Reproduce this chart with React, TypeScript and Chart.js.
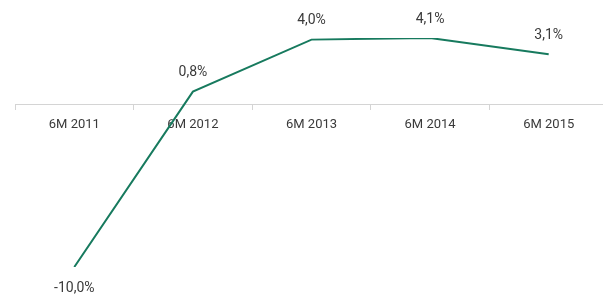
import React, { useEffect, useRef } from "react";
import { Chart, registerables } from "chart.js";

Chart.register(...registerables);

const categories = ["6M 2011", "6M 2012", "6M 2013", "6M 2014", "6M 2015"];
const values = [-10.0, 0.8, 4.0, 4.1, 3.1];
const valueLabels = ["-10,0%", "0,8%", "4,0%", "4,1%", "3,1%"];

const FONT = "Roboto, 'Open Sans', sans-serif";
const TEXT = "#3a3a3a";
const LINE = "#177a5e";

const labelPlugin = {
  id: "valueLabels",
  afterDatasetsDraw(chart: any) {
    const ctx = chart.ctx;
    const meta = chart.getDatasetMeta(0);
    ctx.save();
    ctx.font = `14px ${FONT}`;
    ctx.fillStyle = TEXT;
    ctx.textAlign = "center";
    ctx.textBaseline = "middle";
    meta.data.forEach((pt: any, i: number) => {
      const v = values[i];
      const y = v < 0 ? pt.y + 21 : pt.y - 19;
      ctx.fillText(valueLabels[i], pt.x, y);
    });
    ctx.restore();
  },
};

export default function App() {
  const ref = useRef<HTMLCanvasElement | null>(null);
  useEffect(() => {
    if (!ref.current) return;
    const chart = new Chart(ref.current, {
      type: "line",
      data: {
        labels: categories,
        datasets: [
          {
            data: values,
            borderColor: LINE,
            borderWidth: 2,
            pointRadius: 0,
            tension: 0,
            fill: false,
          },
        ],
      },
      options: {
        animation: false,
        responsive: false,
        maintainAspectRatio: false,
        layout: { padding: { left: 15, right: 2, top: 38, bottom: 28 } },
        plugins: { legend: { display: false }, tooltip: { enabled: false } },
        scales: {
          x: {
            type: "category",
            position: { y: 0 } as any,
            offset: true,
            grid: {
              display: true,
              drawOnChartArea: false,
              drawTicks: true,
              tickLength: 5,
              offset: true,
              color: "#d4d4d4",
            },
            border: { display: true, color: "#d4d4d4", width: 1 },
            ticks: {
              color: TEXT,
              font: { family: FONT, size: 13 },
              padding: 7,
              maxRotation: 0,
              autoSkip: false,
            },
          },
          y: {
            display: false,
            min: -10,
            max: 4.1,
          },
        },
      },
      plugins: [labelPlugin],
    });
    return () => chart.destroy();
  }, []);
  return (
    <div
      style={{
        position: "fixed",
        left: 0,
        top: 0,
        width: 603,
        height: 295,
        overflow: "hidden",
        background: "#fff",
      }}
    >
      <canvas ref={ref} width={610} height={295} style={{ display: "block", width: 610, height: 295 }} />
    </div>
  );
}
